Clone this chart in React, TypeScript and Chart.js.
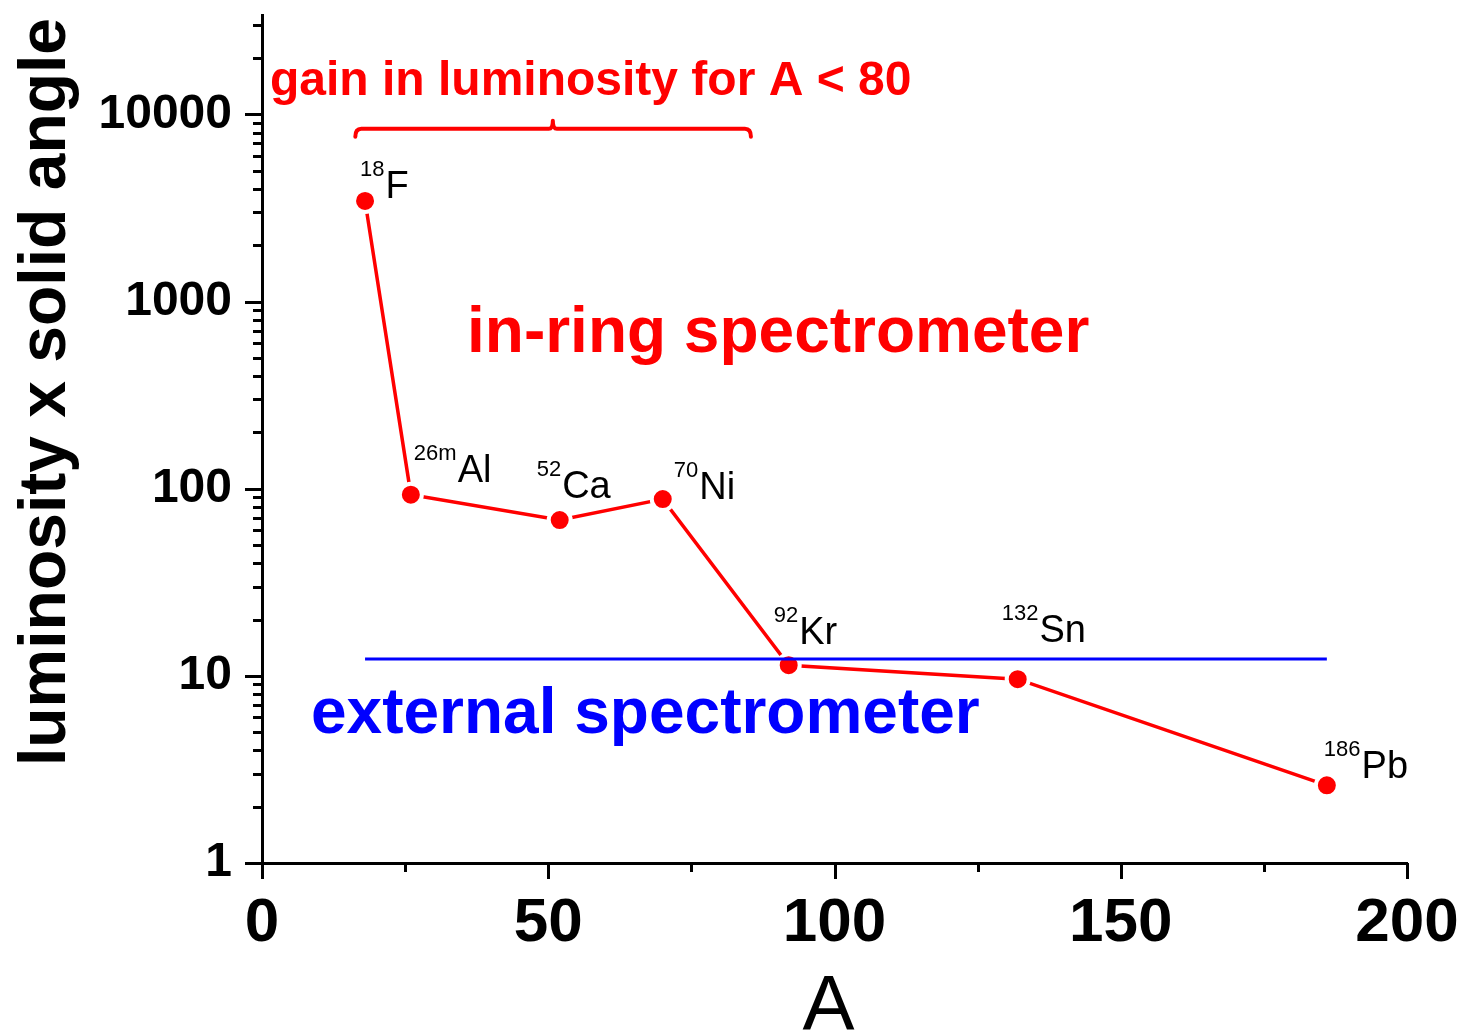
import React, { useEffect, useRef } from 'react';
import { Chart, registerables } from 'chart.js';

Chart.register(...registerables);

// Mass number A of each isotope and its luminosity x solid angle
const massNumbers = [18, 26, 52, 70, 92, 132, 186];
const luminosity = [3450, 93, 68, 88, 11.4, 9.6, 2.6];
const isotopeMass = ['18', '26m', '52', '70', '92', '132', '186'];
const isotopeSymbol = ['F', 'Al', 'Ca', 'Ni', 'Kr', 'Sn', 'Pb'];

// External spectrometer reference level across the same A range
const externalRange = [18, 186];
const externalLevel = 12.3;

// Bracket marking the gain region (A values and height)
const gainRange = [16.3, 85.4];
const gainCenter = 50.8;
const gainLevel = 8400;

const xTicks = [0, 50, 100, 150, 200];
const yTicks = [1, 10, 100, 1000, 10000];
const xMin = 0;
const xMax = 200;
const yMin = 1;
const yMax = 34000;

// Label placement relative to each marker: [dx of superscript start, dy of baseline]
const labelOffsets: [number, number][] = [
  [-5, -3],
  [3, -13],
  [-23, -22],
  [11, 0],
  [-15, -21],
  [-16, -37],
  [-3, -7],
];

const FONT = '"Liberation Sans", Arial, Helvetica, sans-serif';
const RED = '#ff0000';
const BLUE = '#0000ff';

const overlay = {
  id: 'overlay',
  afterDraw(chart: any) {
    const { ctx, chartArea } = chart;
    const x = chart.scales.x;
    const y = chart.scales.y;
    ctx.save();

    // tick marks (outward)
    ctx.strokeStyle = '#000';
    ctx.lineWidth = 3;
    ctx.lineCap = 'butt';
    const seg = (x0: number, y0: number, x1: number, y1: number) => {
      ctx.beginPath();
      ctx.moveTo(x0, y0);
      ctx.lineTo(x1, y1);
      ctx.stroke();
    };
    for (let d = 1; d <= yMax; d *= 10) {
      for (let m = 1; m < 10; m++) {
        const v = d * m;
        if (v > yMax) break;
        const py = Math.round(y.getPixelForValue(v)) + 0.5;
        const len = m === 1 ? 17 : 9;
        seg(chartArea.left - len, py, chartArea.left, py);
      }
    }
    for (let v = xMin; v <= xMax; v += 25) {
      const px = Math.round(x.getPixelForValue(v)) + 0.5;
      const len = v % 50 === 0 ? 16 : 9;
      seg(px, chartArea.bottom, px, chartArea.bottom + len);
    }

    // bracket over the gain region
    const bx0 = x.getPixelForValue(gainRange[0]);
    const bx1 = x.getPixelForValue(gainRange[1]);
    const bm = x.getPixelForValue(gainCenter);
    const by = y.getPixelForValue(gainLevel);
    ctx.strokeStyle = RED;
    ctx.lineWidth = 4;
    ctx.lineJoin = 'round';
    ctx.lineCap = 'round';
    ctx.beginPath();
    ctx.moveTo(bx0, by + 8);
    ctx.quadraticCurveTo(bx0, by, bx0 + 6, by);
    ctx.lineTo(bm - 4, by);
    ctx.quadraticCurveTo(bm, by, bm, by - 8);
    ctx.quadraticCurveTo(bm, by, bm + 4, by);
    ctx.lineTo(bx1 - 6, by);
    ctx.quadraticCurveTo(bx1, by, bx1, by + 8);
    ctx.stroke();

    // annotation texts
    ctx.textAlign = 'left';
    ctx.textBaseline = 'alphabetic';
    ctx.fillStyle = RED;
    ctx.font = `bold 48px ${FONT}`;
    ctx.fillText('gain in luminosity for A < 80', 270, 95);
    ctx.font = `bold 64px ${FONT}`;
    ctx.fillText('in-ring spectrometer', 467, 352);
    ctx.fillStyle = BLUE;
    ctx.fillText('external spectrometer', 311, 733);

    // isotope labels
    ctx.fillStyle = '#000';
    massNumbers.forEach((a, i) => {
      const px = x.getPixelForValue(a) + labelOffsets[i][0];
      const py = y.getPixelForValue(luminosity[i]) + labelOffsets[i][1];
      ctx.font = `22px ${FONT}`;
      ctx.fillText(isotopeMass[i], px, py - 22);
      const w = ctx.measureText(isotopeMass[i]).width;
      ctx.font = `38px ${FONT}`;
      ctx.fillText(isotopeSymbol[i], px + w + 1, py);
    });

    // axis titles
    ctx.font = `bold 66px ${FONT}`;
    ctx.textAlign = 'center';
    ctx.save();
    ctx.translate(65, 392);
    ctx.rotate(-Math.PI / 2);
    ctx.fillText('luminosity x solid angle', 0, 0);
    ctx.restore();
    ctx.font = `78px ${FONT}`;
    ctx.fillText('A', (chartArea.left + chartArea.right) / 2 - 6, 1030);

    ctx.restore();
  },
};

export default function App() {
  const canvasRef = useRef<HTMLCanvasElement | null>(null);

  useEffect(() => {
    document.body.style.margin = '0';
    const canvas = canvasRef.current;
    if (!canvas) return;

    const chart = new Chart(canvas, {
      type: 'line',
      data: {
        datasets: [
          {
            label: 'external spectrometer',
            data: externalRange.map((a) => ({ x: a, y: externalLevel })),
            borderColor: BLUE,
            borderWidth: 3,
            pointRadius: 0,
            order: 1,
          },
          {
            label: 'in-ring spectrometer',
            data: massNumbers.map((a, i) => ({ x: a, y: luminosity[i] })),
            borderColor: RED,
            borderWidth: 3.5,
            pointRadius: 11,
            pointBorderWidth: 4,
            pointBackgroundColor: RED,
            pointBorderColor: '#ffffff',
            order: 2,
          },
        ],
      },
      plugins: [overlay],
      options: {
        responsive: false,
        animation: false,
        events: [],
        layout: { padding: { left: 0, right: 57, top: 10, bottom: 0 } },
        plugins: {
          legend: { display: false },
          title: { display: false },
          tooltip: { enabled: false },
        },
        scales: {
          x: {
            type: 'linear',
            min: xMin,
            max: xMax,
            grid: { display: false, drawTicks: false },
            border: { display: true, color: '#000', width: 3 },
            afterBuildTicks: (scale: any) => {
              scale.ticks = xTicks.map((v) => ({ value: v }));
            },
            afterFit: (scale: any) => {
              scale.height = 172;
              scale.paddingLeft = 0;
              scale.paddingRight = 0;
            },
            ticks: {
              color: '#000',
              padding: 24,
              maxRotation: 0,
              font: { family: FONT, size: 62, weight: 'bold' },
              callback: (v: any) => String(v),
            },
          },
          y: {
            type: 'logarithmic',
            min: yMin,
            max: yMax,
            grid: { display: false, drawTicks: false },
            border: { display: true, color: '#000', width: 3 },
            afterBuildTicks: (scale: any) => {
              scale.ticks = yTicks.map((v) => ({ value: v }));
            },
            afterFit: (scale: any) => {
              scale.width = 262;
              scale.paddingTop = 0;
              scale.paddingBottom = 0;
            },
            ticks: {
              color: '#000',
              padding: 30,
              font: { family: FONT, size: 48, weight: 'bold' },
              callback: (v: any) => String(v),
            },
          },
        },
      },
    } as any);

    return () => chart.destroy();
  }, []);

  return (
    <div style={{ width: 1464, height: 1035, background: '#fff' }}>
      <canvas ref={canvasRef} width={1464} height={1035} style={{ display: 'block' }} />
    </div>
  );
}
